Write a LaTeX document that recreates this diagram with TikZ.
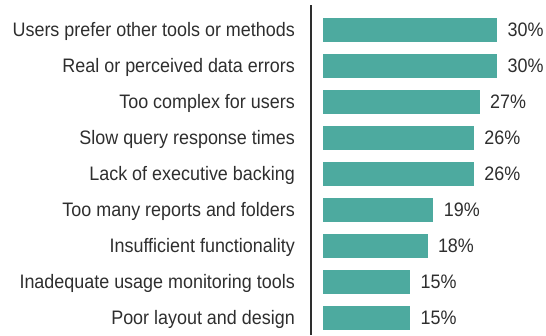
\documentclass[tikz,border=0pt]{standalone}
\usepackage{fontspec}
\setmainfont{Liberation Sans}[FakeStretch=0.92]
\usetikzlibrary{positioning}
\definecolor{barteal}{HTML}{4DAA9F}
\definecolor{inkgray}{HTML}{2E2E2E}

\begin{document}
\begin{tikzpicture}[x=1pt, y=-1pt,
    lbl/.style={anchor=base east, inner sep=0pt, text=inkgray, font=\fontsize{19.5}{22}\selectfont},
    bar/.style={anchor=west, fill=barteal, inner sep=0pt, minimum height=24pt},
    pct/.style={anchor=base west, inner sep=0pt, text=inkgray, font=\fontsize{19.5}{22}\selectfont}]
    \useasboundingbox (0,0) rectangle (546,335);

    % Axis
    \coordinate (axtop) at (311,5);
    \coordinate (axbot) at (311,335);
    \draw[inkgray, line width=1.4pt] (axtop) -- (axbot);

    % Bars, labels and values
    \foreach \i/\txt/\v in {1/Users prefer other tools or methods/30,
                            2/Real or perceived data errors/30,
                            3/Too complex for users/27,
                            4/Slow query response times/26,
                            5/Lack of executive backing/26,
                            6/Too many reports and folders/19,
                            7/Insufficient functionality/18,
                            8/Inadequate usage monitoring tools/15,
                            9/Poor layout and design/15} {
        \pgfmathsetmacro{\yc}{30+36*(\i-1)}
        \node[lbl] (label\i) at (295,\yc+6.5) {\txt};
        \node[bar, minimum width=\v*5.8pt] (bar\i) at (323,\yc) {};
        \node[pct] (val\i) at ([xshift=10pt, yshift=-6.5pt]bar\i.east) {\v\%};
    }
\end{tikzpicture}
\end{document}
